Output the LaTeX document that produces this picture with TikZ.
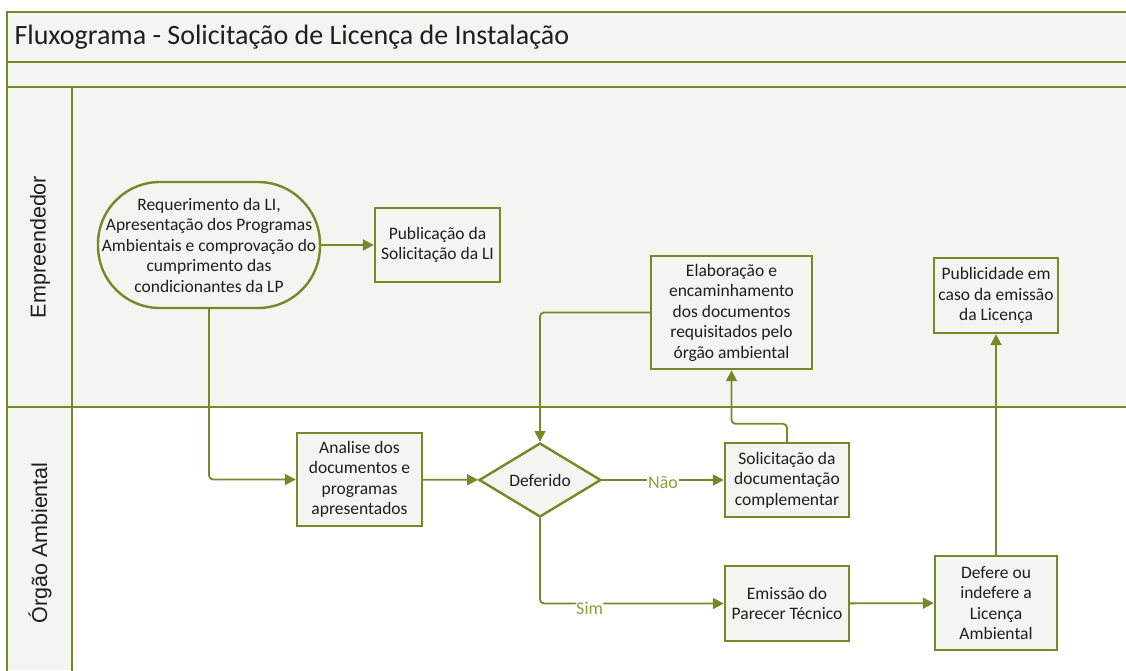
\documentclass[tikz,border=0pt]{standalone}
\usepackage{fontspec}
\setmainfont{Carlito}
\newfontfamily\lanefont{Liberation Sans}
\usetikzlibrary{shapes.geometric,arrows.meta}
\definecolor{lineolive}{RGB}{118,137,40}
\definecolor{lblolive}{RGB}{140,160,60}
\definecolor{paneBg}{RGB}{243,245,240}
\definecolor{txt}{RGB}{30,30,30}
\tikzset{
  frame/.style={draw=lineolive, line width=2pt},
  procbox/.style={draw=lineolive, line width=2.4pt, fill=paneBg, align=center, inner sep=0pt,
    text=txt, font=\fontsize{17.5}{20.5}\selectfont},
  termbox/.style={procbox, rounded corners=62pt},
  decbox/.style={procbox, diamond},
  flow/.style={draw=lineolive, line width=1.8pt, -{Triangle[width=11pt,length=11pt]}},
  lbl/.style={fill=white, inner sep=1pt, text=lblolive, font=\fontsize{18}{20}\selectfont},
  lanelbl/.style={rotate=90, text=txt, font=\lanefont\fontsize{21.5}{24}\selectfont}
}
\begin{document}
\begin{tikzpicture}[x=1pt,y=-1pt]
\useasboundingbox (0,0) rectangle (1126,670);
% backgrounds
\fill[paneBg] (7,12) rectangle (1126,407);
\fill[paneBg] (7,407) rectangle (72,670);
\fill[white] (72,407) rectangle (1126,670);
% frame lines
\draw[frame] (1130,12) -- (7,12) -- (7,672);
\draw[frame] (7,62) -- (1130,62);
\draw[frame] (7,87) -- (1130,87);
\draw[frame] (7,407) -- (1130,407);
\draw[frame] (72,87) -- (72,672);
% title and lane labels
\node[anchor=west, text=txt, font=\fontsize{28}{32}\selectfont] (title) at (11,37) {Fluxograma - Solicitação de Licença de Instalação};
\node[lanelbl] (lane1) at (40,247) {Empreendedor};
\node[lanelbl] (lane2) at (40,543) {Órgão Ambiental};
% nodes
\node[termbox, minimum width=222pt, minimum height=126pt] (req) at (209,245)
  {Requerimento da LI,\\Apresentação dos Programas\\Ambientais e comprovação do\\cumprimento das\\condicionantes da LP};
\node[procbox, minimum width=125pt, minimum height=74pt] (pub) at (437.5,245)
  {Publicação da\\Solicitação da LI};
\node[procbox, minimum width=161pt, minimum height=113pt] (elab) at (731.5,312.5)
  {Elaboração e\\encaminhamento\\dos documentos\\requisitados pelo\\órgão ambiental};
\node[procbox, minimum width=124pt, minimum height=75pt] (pubc) at (996,295.5)
  {Publicidade em\\caso da emissão\\da Licença};
\node[procbox, minimum width=125pt, minimum height=93pt] (ana) at (359.5,479.5)
  {Analise dos\\documentos e\\programas\\apresentados};
\node[decbox, minimum width=122pt, minimum height=74pt] (def) at (540,480) {Deferido};
\node[procbox, minimum width=124pt, minimum height=74pt] (sol) at (787,480)
  {Solicitação da\\documentação\\complementar};
\node[procbox, minimum width=124pt, minimum height=75pt] (emi) at (787,603.5)
  {Emissão do\\Parecer Técnico};
\node[procbox, minimum width=122pt, minimum height=94pt] (dfr) at (996,603)
  {Defere ou\\indefere a\\Licença\\Ambiental};
% connectors
\draw[flow] (req) -- (pub);
\draw[flow, rounded corners=4pt] (req.south) |- (ana.west);
\draw[flow] (ana) -- (def);
\draw[flow] (def) -- node[lbl, yshift=-3pt] {Não} (sol);
\draw[flow, rounded corners=4pt] (def.south) |- node[lbl, pos=0.635, yshift=-5pt] {Sim} (emi.west);
\draw[flow] (emi) -- (dfr);
\draw[flow] (dfr) -- (pubc);
\draw[flow, rounded corners=4pt] (sol.north) -- ++(0,-18) -| (elab.south);
\draw[flow, rounded corners=4pt] (elab.west) -| (def.north);
\end{tikzpicture}
\end{document}
